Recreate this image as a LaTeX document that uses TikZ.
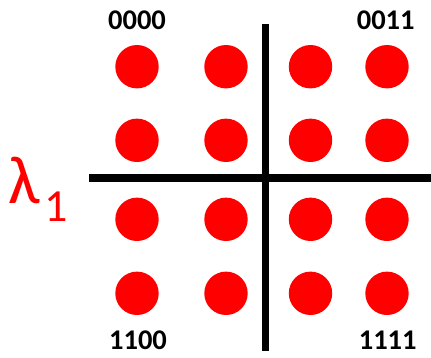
\documentclass[tikz,border=0pt]{standalone}
\usepackage{fontspec}
\setmainfont{Carlito}
\begin{document}
\begin{tikzpicture}[x=1pt,y=-1pt,
  dot/.style={circle,fill=red,draw=none,minimum size=43.4pt,inner sep=0pt},
  axis/.style={line width=7.8pt,black},
  code/.style={font=\fontsize{28.5}{30}\selectfont\bfseries,inner sep=0pt,anchor=base}]
\useasboundingbox (0,0) rectangle (431,357);
\foreach \x [count=\i] in {137,226,310.5,387}{
  \foreach \y [count=\j] in {66.7,140.3,219.3,293.3}{
    \node[dot] (d\j\i) at (\x,\y) {};
  }
}
\coordinate (hl) at (89,178);
\coordinate (hr) at (431,178);
\coordinate (vt) at (265.5,24);
\coordinate (vb) at (265.5,350.7);
\draw[axis] (hl) -- (hr);
\draw[axis] (vt) -- (vb);
\node[code] (c1) at (137,29.3) {0000};
\node[code] (c2) at (385.7,29.3) {0011};
\node[code] (c3) at (138,349.7) {1100};
\node[code] (c4) at (387.7,349.7) {1111};
\node[red,anchor=base west,inner sep=0pt,font=\fontsize{68}{70}\selectfont] (lam) at (8,203) {λ};
\node[red,anchor=base west,inner sep=0pt,font=\fontsize{46}{48}\selectfont] (sub) at (44,221) {1};
\end{tikzpicture}
\end{document}
